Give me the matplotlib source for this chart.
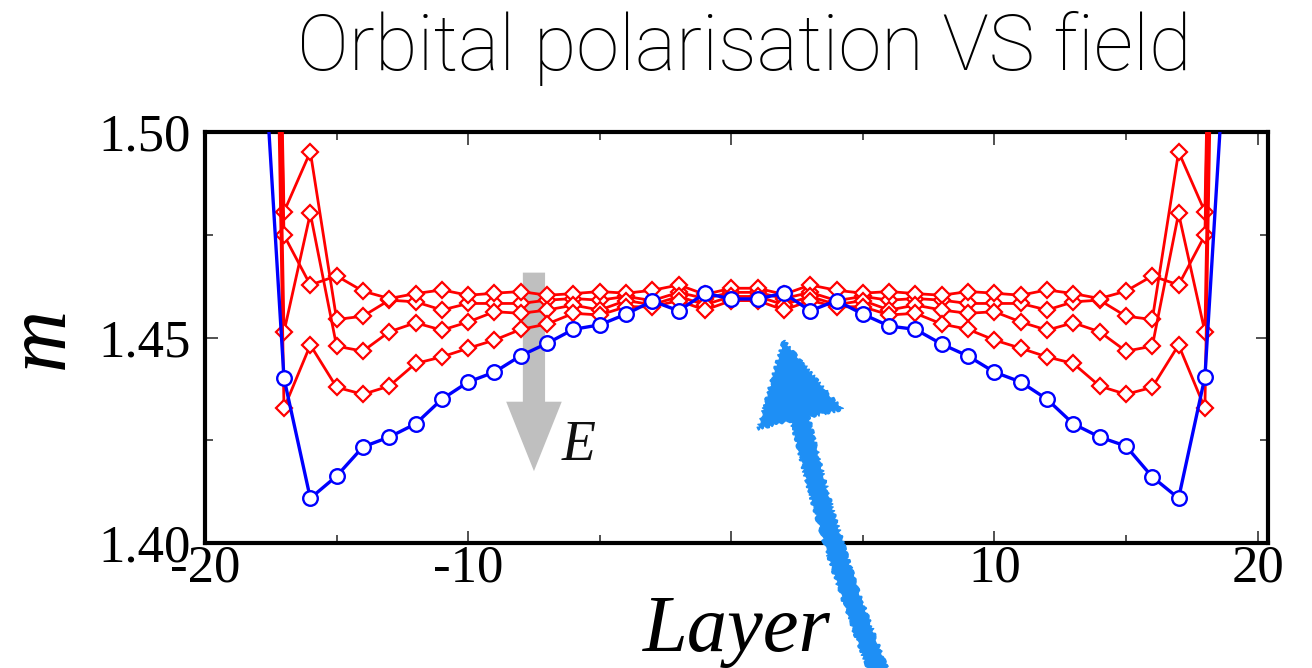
import numpy as np
import matplotlib.pyplot as plt
from matplotlib.ticker import FixedLocator, FixedFormatter, MultipleLocator

# Layers (the outermost ones lie outside the plotted window)
layers = np.arange(-18, 20)

# Blue curve (zero field), circles
m_blue = [1.545, 1.4401, 1.4109, 1.4163, 1.4234, 1.4258, 1.4290, 1.4350, 1.4392,
          1.4416, 1.4456, 1.4486, 1.4520, 1.4531, 1.4557, 1.4589, 1.4565, 1.4608,
          1.4594, 1.4594, 1.4608, 1.4565, 1.4590, 1.4557, 1.4528, 1.4520, 1.4484,
          1.4455, 1.4416, 1.4392, 1.4350, 1.4290, 1.4258, 1.4236, 1.4161, 1.4109,
          1.4404, 1.545]

# Red curves (finite field), diamonds
m_red_1 = [1.80, 1.4806, 1.4952, 1.4544, 1.4552, 1.4591, 1.4587, 1.4567, 1.4583,
           1.4583, 1.4583, 1.4591, 1.4595, 1.4591, 1.4600, 1.4590, 1.4610, 1.4595,
           1.4610, 1.4610, 1.4595, 1.4610, 1.4590, 1.4600, 1.4591, 1.4595, 1.4591,
           1.4583, 1.4583, 1.4583, 1.4567, 1.4587, 1.4591, 1.4552, 1.4544, 1.4952,
           1.4806, 1.80]
m_red_2 = [1.80, 1.4749, 1.4628, 1.4650, 1.4613, 1.4595, 1.4607, 1.4616, 1.4603,
           1.4608, 1.4612, 1.4603, 1.4607, 1.4612, 1.4608, 1.4615, 1.4628, 1.4605,
           1.4620, 1.4620, 1.4605, 1.4628, 1.4615, 1.4608, 1.4612, 1.4607, 1.4603,
           1.4612, 1.4608, 1.4603, 1.4616, 1.4607, 1.4595, 1.4613, 1.4650, 1.4628,
           1.4749, 1.80]
m_red_3 = [1.80, 1.4514, 1.4802, 1.4479, 1.4467, 1.4514, 1.4536, 1.4518, 1.4538,
           1.4563, 1.4559, 1.4567, 1.4579, 1.4567, 1.4590, 1.4580, 1.4600, 1.4580,
           1.4600, 1.4600, 1.4580, 1.4600, 1.4580, 1.4590, 1.4567, 1.4579, 1.4567,
           1.4559, 1.4563, 1.4538, 1.4518, 1.4536, 1.4514, 1.4467, 1.4479, 1.4802,
           1.4514, 1.80]
m_red_4 = [1.80, 1.4328, 1.4482, 1.4379, 1.4362, 1.4382, 1.4437, 1.4453, 1.4474,
           1.4494, 1.4520, 1.4533, 1.4559, 1.4555, 1.4575, 1.4575, 1.4590, 1.4567,
           1.4590, 1.4590, 1.4567, 1.4590, 1.4575, 1.4575, 1.4555, 1.4559, 1.4533,
           1.4520, 1.4494, 1.4474, 1.4453, 1.4437, 1.4382, 1.4362, 1.4379, 1.4482,
           1.4328, 1.80]
red_curves = [m_red_1, m_red_2, m_red_3, m_red_4]

x_ticks = [-20, -10, 0, 10, 20]
x_tick_labels = ["-20", "-10", "", "10", "20"]
y_ticks = [1.40, 1.45, 1.50]
y_tick_labels = ["1.40", "1.45", "1.50"]

serif = ["Liberation Serif", "DejaVu Serif"]

fig = plt.figure(figsize=(13.12, 6.68), dpi=100)
ax = fig.add_axes([0.1563, 0.187, 0.8102, 0.6153])

# gray arrow showing the field direction
ax.annotate("", xy=(-7.5, 1.4175), xytext=(-7.5, 1.4658),
            arrowprops=dict(arrowstyle="simple,head_width=4.0,head_length=5.0,tail_width=1.6",
                            color="#bfbfbf", lw=0, shrinkA=0, shrinkB=0),
            zorder=1)
ax.text(-6.45, 1.4235, "E", family=serif, style="italic", fontsize=40,
        ha="left", va="center", color="#111111")

for m in red_curves:
    ax.plot(layers, m, color="red", lw=2.0, marker="D", ms=8,
            mfc="white", mec="red", mew=1.6, zorder=3)

ax.plot(layers, m_blue, color="blue", lw=2.4, marker="o", ms=10.5,
        mfc="white", mec="blue", mew=1.7, zorder=4)

ax.set_xlim(-20, 20.4)
ax.set_ylim(1.40, 1.50)

ax.xaxis.set_major_locator(FixedLocator(x_ticks))
ax.xaxis.set_major_formatter(FixedFormatter(x_tick_labels))
ax.xaxis.set_minor_locator(MultipleLocator(5))
ax.yaxis.set_major_locator(FixedLocator(y_ticks))
ax.yaxis.set_major_formatter(FixedFormatter(y_tick_labels))
ax.yaxis.set_minor_locator(MultipleLocator(0.025))

ax.tick_params(which="both", direction="in", top=True, right=True,
               color="#333333", width=1.2)
ax.tick_params(which="major", length=9)
ax.tick_params(which="minor", length=6)
ax.tick_params(axis="y", which="major", labelsize=38, pad=10)
ax.tick_params(axis="x", which="major", labelsize=38, pad=1)
for lab in ax.get_xticklabels() + ax.get_yticklabels():
    lab.set_family(serif)

for s in ax.spines.values():
    s.set_linewidth(3)

ax.set_xlabel("Layer", family=serif, style="italic", fontsize=58, labelpad=2)
ax.set_ylabel("m", family=serif, style="italic", fontsize=62, labelpad=12)

# hand drawn pointer
arr = ax.annotate("", xy=(2.0, 1.4494), xytext=(0.635, -0.32),
                  textcoords="axes fraction", annotation_clip=False,
                  arrowprops=dict(arrowstyle="simple,head_width=6.2,head_length=5.8,tail_width=1.3",
                                  connectionstyle="arc3,rad=-0.05",
                                  color="#1e8ff5", lw=1.0, shrinkA=0, shrinkB=0),
                  zorder=6)
arr.arrow_patch.set_sketch_params(scale=1.5, length=10, randomness=6)

fig.text(0.567, 0.895, "Orbital polarisation VS field", family=["Roboto", "DejaVu Sans"],
         fontweight="light", fontsize=56, ha="center", va="baseline")

fig.savefig("out.png", dpi=100)
